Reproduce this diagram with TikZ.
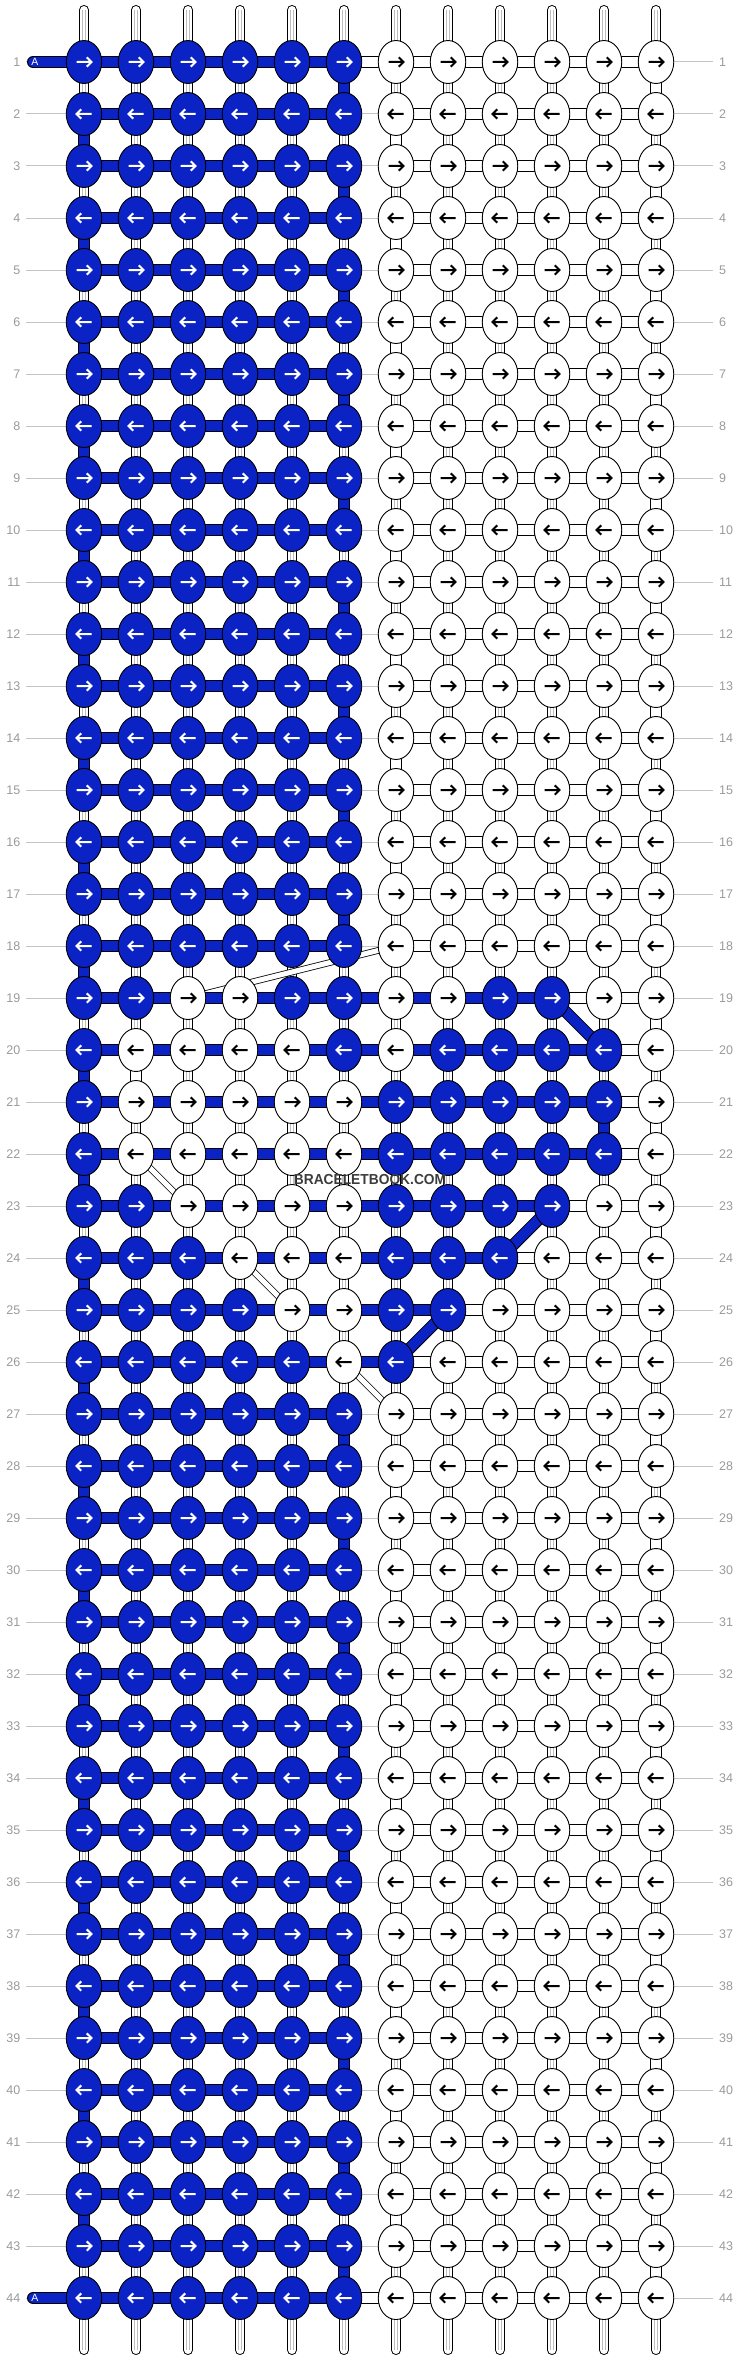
\documentclass[tikz,border=0pt]{standalone}
\usepackage{fontspec}
\setmainfont{Liberation Sans}
\usetikzlibrary{shapes.geometric}
\definecolor{bb}{HTML}{0B22C4}
\definecolor{rowg}{HTML}{C4C4C4}
\definecolor{lblg}{HTML}{9A9A9A}
\definecolor{inng}{HTML}{BDBDBD}
\definecolor{wmc}{HTML}{3C3C3C}
\pgfdeclarelayer{bg}\pgfdeclarelayer{mid}\pgfsetlayers{bg,mid,main}
\tikzset{
  knotB/.style={ellipse, draw=black, line width=0.9pt, fill=bb, minimum width=35.5pt, minimum height=43pt, inner sep=0pt},
  knotW/.style={ellipse, draw=black, line width=0.9pt, fill=white, minimum width=35.5pt, minimum height=43pt, inner sep=0pt},
  arrB/.style={white},
  arrW/.style={black},
  conB/.style={draw=black, line width=1pt, double=bb, double distance=10pt},
  conW/.style={draw=black, line width=1pt, double=white, double distance=10pt},
  basethread/.style={draw=black, line width=1pt, double=white, double distance=8pt, line cap=round},
  innerline/.style={draw=inng, line width=0.6pt},
  thinW/.style={draw=black, line width=0.8pt, double=white, double distance=5pt},
  rowline/.style={draw=rowg, line width=1pt},
  lbl/.style={text=lblg, font=\fontsize{12.5}{12.5}\selectfont, inner sep=0pt},
  pics/ar/.style 2 args={code={\draw[#2, line width=2pt, xscale=#1] (-7.5pt,0pt) -- (7.5pt,0pt) (2.8pt,-4.6pt) -- (7.5pt,0pt) -- (2.8pt,4.6pt);}}
}
\begin{document}
\begin{tikzpicture}[x=1pt,y=-1pt]
\useasboundingbox (0,0) rectangle (740,2360);
% knots
\foreach \r in {1,...,44}{
  \pgfmathsetmacro\Y{62+52*(\r-1)}
  \ifnum\r<19 \def\pat{B,B,B,B,B,B,W,W,W,W,W,W}\else
  \ifnum\r>26 \def\pat{B,B,B,B,B,B,W,W,W,W,W,W}\else
  \ifcase\numexpr\r-19\relax
    \def\pat{B,B,W,W,B,B,W,W,B,B,W,W}\or
    \def\pat{B,W,W,W,W,B,W,B,B,B,B,W}\or
    \def\pat{B,W,W,W,W,W,B,B,B,B,B,W}\or
    \def\pat{B,W,W,W,W,W,B,B,B,B,B,W}\or
    \def\pat{B,B,W,W,W,W,B,B,B,B,W,W}\or
    \def\pat{B,B,B,W,W,W,B,B,B,W,W,W}\or
    \def\pat{B,B,B,B,W,W,B,B,W,W,W,W}\or
    \def\pat{B,B,B,B,B,W,B,W,W,W,W,W}\fi\fi\fi
  \pgfmathtruncatemacro\dir{mod(\r,2)==1 ? 1 : -1}
  \foreach \k [count=\c] in \pat {
    \pgfmathsetmacro\X{84+52*(\c-1)}
    \node[knot\k] (k-\r-\c) at (\X,\Y) {};
    \pic at (k-\r-\c) {ar={\dir}{arr\k}};
  }
  \coordinate (ll-\r) at (26,\Y);
  \coordinate (rl-\r) at (713,\Y);
  \node[lbl, anchor=east] (lab-l-\r) at (20.5,\Y) {\r};
  \node[lbl, anchor=west] (lab-r-\r) at (719,\Y) {\r};
}
% base threads
\begin{pgfonlayer}{bg}
\foreach \r in {1,...,44}{ \draw[rowline] (ll-\r) -- (rl-\r); }
\foreach \c in {1,...,12}{
  \pgfmathsetmacro\X{84+52*(\c-1)}
  \coordinate (top-\c) at (\X,10);
  \coordinate (bot-\c) at (\X,2350);
  \draw[basethread] (top-\c) -- (bot-\c);
  \draw[innerline] ([xshift=-1.4pt]top-\c) -- ([xshift=-1.4pt]bot-\c);
  \draw[innerline] ([xshift=1.4pt]top-\c) -- ([xshift=1.4pt]bot-\c);
}
\end{pgfonlayer}
\begin{pgfonlayer}{mid}
% thin white diagonals
\foreach \ra/\ca/\rb/\cb in {18/7/19/3, 22/2/23/3, 24/4/25/5, 26/6/27/7}{
  \draw[thinW] (k-\ra-\ca.center) -- (k-\rb-\cb.center);
}
% vertical turns
\foreach \r in {2,4,...,42}{
  \pgfmathtruncatemacro\rn{\r+1}
  \draw[conB] (k-\r-1.center) -- (k-\rn-1.center);
}
\foreach \r/\c in {1/6,3/6,5/6,7/6,9/6,11/6,13/6,15/6,17/6,21/11,27/6,29/6,31/6,33/6,35/6,37/6,39/6,41/6,43/6}{
  \pgfmathtruncatemacro\rn{\r+1}
  \draw[conB] (k-\r-\c.center) -- (k-\rn-\c.center);
}
\foreach \r in {1,3,...,43}{
  \pgfmathtruncatemacro\rn{\r+1}
  \draw[conW] (k-\r-12.center) -- (k-\rn-12.center);
}
\foreach \r/\c in {2/7,4/7,6/7,8/7,10/7,12/7,14/7,16/7,20/2,28/7,30/7,32/7,34/7,36/7,38/7,40/7,42/7}{
  \pgfmathtruncatemacro\rn{\r+1}
  \draw[conW] (k-\r-\c.center) -- (k-\rn-\c.center);
}
% horizontal connectors
\foreach \r in {1,...,44}{
  \ifnum\r=1 \def\hpat{B,B,B,B,B,W,W,W,W,W,W}\else
  \ifnum\r=44 \def\hpat{B,B,B,B,B,W,W,W,W,W,W}\else
  \ifnum\r<19 \def\hpat{B,B,B,B,B,N,W,W,W,W,W}\else
  \ifnum\r>26 \def\hpat{B,B,B,B,B,N,W,W,W,W,W}\else
  \ifcase\numexpr\r-19\relax
    \def\hpat{B,B,B,B,B,B,B,B,B,W,W}\or
    \def\hpat{B,B,B,B,B,B,B,B,B,B,W}\or
    \def\hpat{B,B,B,B,B,B,B,B,B,B,W}\or
    \def\hpat{B,B,B,B,B,B,B,B,B,B,W}\or
    \def\hpat{B,B,B,B,B,B,B,B,B,W,W}\or
    \def\hpat{B,B,B,B,B,B,B,B,W,W,W}\or
    \def\hpat{B,B,B,B,B,B,B,W,W,W,W}\or
    \def\hpat{B,B,B,B,B,B,W,W,W,W,W}\fi\fi\fi\fi\fi
  \foreach \h [count=\c] in \hpat {
    \pgfmathtruncatemacro\cn{\c+1}
    \if\h N\else \draw[con\h] (k-\r-\c.center) -- (k-\r-\cn.center); \fi
  }
}
% blue diagonals
\foreach \ra/\ca/\rb/\cb in {19/10/20/11, 23/10/24/9, 25/8/26/7}{
  \draw[conB] (k-\ra-\ca.center) -- (k-\rb-\cb.center);
}
% start / end tabs
\coordinate (tab-1) at (33,62);
\coordinate (tab-44) at (33,2298);
\draw[conB, line cap=round] (tab-1) -- (k-1-1.center);
\draw[conB, line cap=round] (tab-44) -- (k-44-1.center);
\end{pgfonlayer}
\node[text=white, font=\fontsize{10.5}{10.5}\selectfont, inner sep=0pt] (A1) at (35,62) {A};
\node[text=white, font=\fontsize{10.5}{10.5}\selectfont, inner sep=0pt] (A44) at (35,2298) {A};
\node[text=wmc, font=\bfseries\fontsize{14.5}{14.5}\selectfont, inner sep=0pt, xscale=0.95] (wm) at (370,1179) {BRACELETBOOK.COM};
\end{tikzpicture}
\end{document}
